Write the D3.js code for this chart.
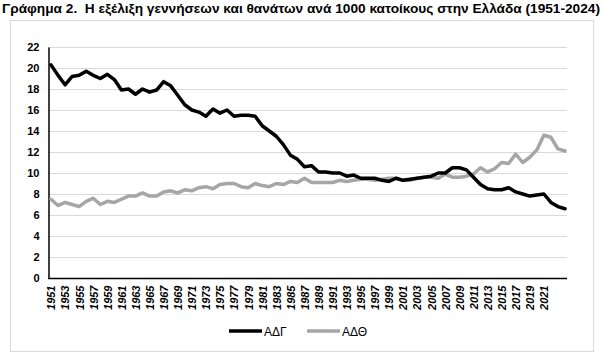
<!DOCTYPE html>
<html><head><meta charset="utf-8">
<script src="https://cdn.jsdelivr.net/npm/d3@7"></script>
<style>
body{margin:0;background:#fff;}
svg{display:block;font-family:"Liberation Sans",Arial,sans-serif;}
</style></head>
<body><svg id="c" width="603" height="355"></svg>
<script>
const years = d3.range(1951, 2025);
const births = [20.3,19.3,18.4,19.2,19.3,19.7,19.3,19.0,19.4,18.9,17.9,18.0,17.5,18.0,17.7,17.9,18.7,18.3,17.4,16.5,16.0,15.8,15.4,16.1,15.7,16.0,15.4,15.5,15.5,15.4,14.5,14.0,13.5,12.7,11.7,11.3,10.6,10.7,10.1,10.1,10.0,10.0,9.7,9.8,9.5,9.5,9.5,9.3,9.2,9.5,9.3,9.4,9.5,9.6,9.7,10.0,10.0,10.5,10.5,10.3,9.6,8.9,8.5,8.4,8.4,8.6,8.2,8.0,7.8,7.9,8.0,7.2,6.8,6.6];
const deaths = [7.5,6.9,7.2,7.0,6.8,7.3,7.6,7.0,7.3,7.2,7.5,7.8,7.8,8.1,7.8,7.8,8.2,8.3,8.1,8.4,8.3,8.6,8.7,8.5,8.9,9.0,9.0,8.7,8.6,9.0,8.8,8.7,9.0,8.9,9.2,9.1,9.5,9.1,9.1,9.1,9.1,9.3,9.2,9.3,9.4,9.4,9.3,9.4,9.5,9.5,9.3,9.3,9.5,9.6,9.6,9.5,9.9,9.6,9.6,9.7,9.9,10.5,10.1,10.4,11.0,10.9,11.8,11.0,11.5,12.2,13.6,13.4,12.3,12.1];
const yTicks = d3.range(0, 23, 2);
const xLabels = years.filter((y,i) => i % 2 === 0 && y <= 2021);
const seriesNames = ["ΑΔΓ", "ΑΔΘ"];
const seriesColors = ["#000000", "#a6a6a6"];
const title = "Γράφημα 2.  Η εξέλιξη γεννήσεων και θανάτων ανά 1000 κατοίκους στην Ελλάδα (1951-2024)";

const svg = d3.select("#c");
// outer frame
svg.append("rect").attr("x",10.5).attr("y",20.5).attr("width",583).attr("height",331)
  .attr("fill","none").attr("stroke","#d9d9d9");
svg.append("text").attr("x",2).attr("y",13).attr("font-size",13).attr("font-weight","bold")
  .style("white-space","pre")
  .attr("textLength",598).attr("lengthAdjust","spacingAndGlyphs").text(title);

const x = d3.scalePoint().domain(years).range([51,565]);
const y = d3.scaleLinear().domain([0,22]).range([278,47]);

// gridlines
svg.append("g").selectAll("line").data(yTicks.filter(d=>d>0)).join("line")
  .attr("x1",48).attr("x2",567).attr("y1",d=>y(d)+0.5).attr("y2",d=>y(d)+0.5)
  .attr("stroke","#d9d9d9").attr("stroke-width",1);

// y axis
const ya = svg.append("g").attr("transform","translate(48.5,0)")
  .call(d3.axisLeft(y).tickValues(yTicks).tickSize(0).tickPadding(9));
ya.select(".domain").attr("stroke","#000").attr("stroke-width",1.5);
ya.selectAll("text").attr("font-size",11).attr("font-weight","bold").attr("fill","#000")
  .attr("font-family","Liberation Sans, Arial, sans-serif");

// x axis
const xa = svg.append("g").attr("transform","translate(0,278.5)")
  .call(d3.axisBottom(x).tickValues(xLabels).tickSize(0).tickFormat(d3.format("d")));
xa.select(".domain").attr("d","M48,0H567").attr("stroke","#000").attr("stroke-width",1.5);
xa.selectAll("text").attr("font-size",11).attr("font-weight","bold").attr("font-style","italic")
  .attr("fill","#000").attr("font-family","Liberation Sans, Arial, sans-serif")
  .attr("text-anchor","end").attr("dy","0.35em")
  .attr("transform","translate(0,7) rotate(-90)").attr("y",0).attr("x",0);

const line = d3.line().x((d,i)=>x(years[i])).y(d=>y(d)).curve(d3.curveLinear);
[births, deaths].slice().reverse().forEach((s,k)=>{
  const idx = 1-k;
  svg.append("path").datum(s).attr("d",line).attr("fill","none")
    .attr("stroke",seriesColors[idx]).attr("stroke-width",3.5)
    .attr("stroke-linejoin","round").attr("stroke-linecap","round");
});

// legend
const legX = [229, 307];
seriesNames.forEach((n,i)=>{
  svg.append("line").attr("x1",legX[i]).attr("x2",legX[i]+33).attr("y1",331).attr("y2",331)
    .attr("stroke",seriesColors[i]).attr("stroke-width",3.5);
  svg.append("text").attr("x",legX[i]+35).attr("y",335.5).attr("font-size",12).attr("fill","#000").text(n);
});
</script></body></html>
